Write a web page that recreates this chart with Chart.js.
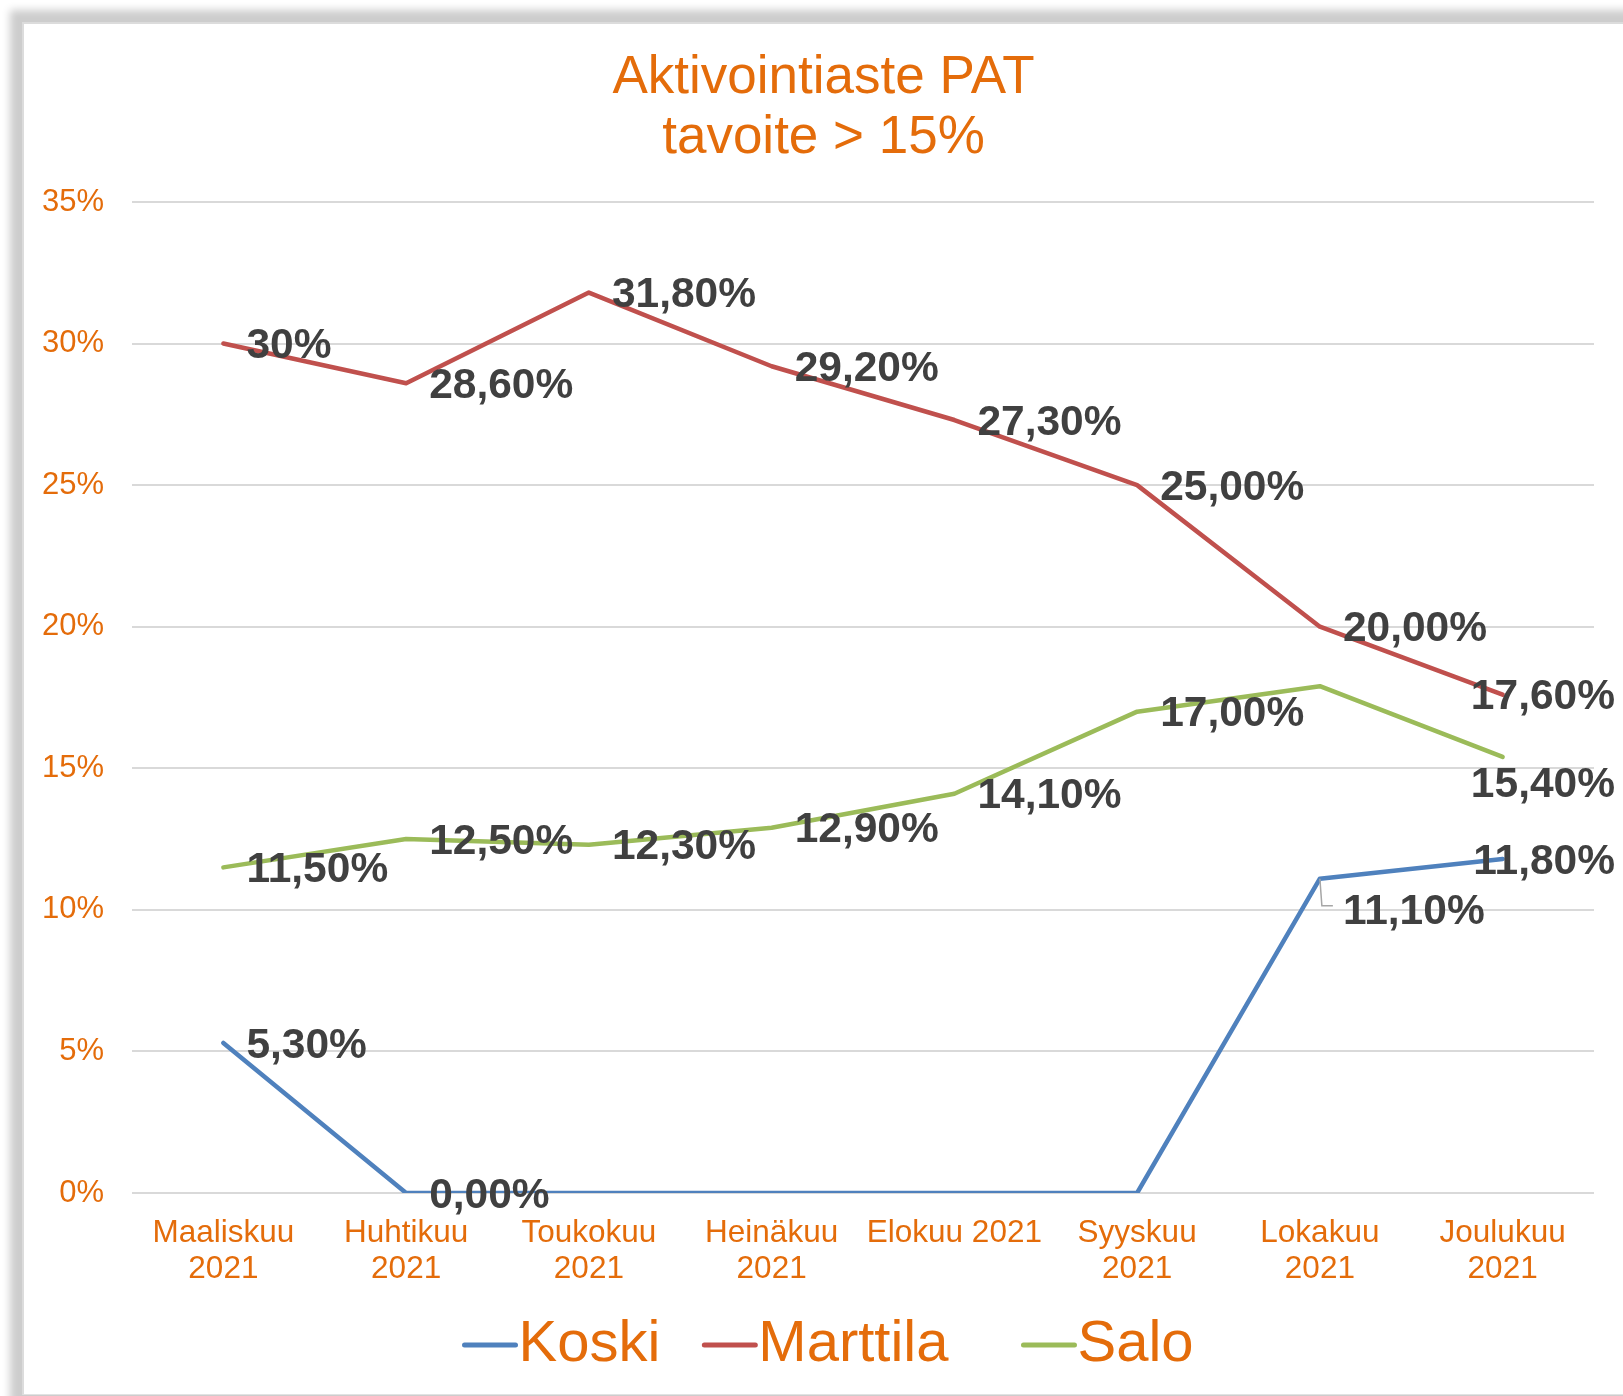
<!DOCTYPE html>
<html>
<head>
<meta charset="utf-8">
<script src="https://cdn.jsdelivr.net/npm/chart.js@4/dist/chart.umd.min.js"></script>
<style>
  html, body { margin: 0; padding: 0; background: #fff; overflow: hidden; }
  #frame {
    position: absolute; left: 22px; top: 22px;
    width: 1640px; height: 1370px;
    background: #fff;
    border-top: 2px solid #dcdcdc; border-left: 2px solid #dcdcdc; border-bottom: 1px solid #e2e2e2;
    box-shadow: 0 0 8px 12px #cdcdcd;
  }
  #chart { position: absolute; left: 0; top: 0; }
</style>
</head>
<body>
<div id="frame"><canvas id="chart" width="1599" height="1370"></canvas></div>
<script>
// Kuukaudet (x-akselin nimikkeet)
const months = [
    ['Maaliskuu', '2021'], ['Huhtikuu', '2021'], ['Toukokuu', '2021'], ['Heinäkuu', '2021'],
    'Elokuu 2021', ['Syyskuu', '2021'], ['Lokakuu', '2021'], ['Joulukuu', '2021']
];
// Aktivointiaste % per kunta
const koski = [5.3, 0, 0, 0, 0, 0, 11.1, 11.8];
const marttila = [30, 28.6, 31.8, 29.2, 27.3, 25.0, 20.0, 17.6];
const salo = [11.5, 12.5, 12.3, 12.9, 14.1, 17.0, 17.9, 15.4];
const seriesNames = ['Koski', 'Marttila', 'Salo'];
const yTicks = [0, 5, 10, 15, 20, 25, 30, 35];
const titleLines = ['Aktivointiaste PAT', 'tavoite > 15%'];

const orange = '#E46C0A';
const fontFamily = '"Liberation Sans", Arial, sans-serif';

// Arvojen tekstit: pilkku desimaalierottimena
const fmt = (v) => v.toFixed(2).replace('.', ',') + '%';
const textOverrides = { '1-0': '30%' };
const hiddenLabels = { 0: [2, 3, 4, 5], 2: [6] };
// Käsin siirretyt nimikkeet (dy px) ja johtoviiva
const labelShift = { '0-6': { dy: 31, leader: true }, '2-7': { dy: 25 } };

const pointLabels = {
    id: 'pointLabels',
    afterDatasetsDraw(chart) {
        const ctx = chart.ctx;
        ctx.save();
        ctx.font = 'bold 42.5px ' + fontFamily;
        ctx.textBaseline = 'middle';
        ctx.textAlign = 'left';
        chart.data.datasets.forEach((ds, di) => {
            const meta = chart.getDatasetMeta(di);
            meta.data.forEach((pt, i) => {
                if ((hiddenLabels[di] || []).includes(i)) return;
                const key = di + '-' + i;
                const text = textOverrides[key] || fmt(ds.data[i]);
                const shift = labelShift[key] || { dy: 0 };
                const w = ctx.measureText(text).width;
                let x = pt.x + 23;
                if (x + w > chart.width - 8) x = chart.width - 8 - w;
                const y = pt.y + shift.dy;
                if (shift.leader) {
                    ctx.strokeStyle = '#a6a6a6';
                    ctx.lineWidth = 1.5;
                    ctx.beginPath();
                    ctx.moveTo(pt.x, pt.y);
                    ctx.lineTo(pt.x + 2, y - 4);
                    ctx.lineTo(x - 10, y - 4);
                    ctx.stroke();
                }
                ctx.fillStyle = '#404040';
                ctx.fillText(text, x, y + 3);
            });
        });
        ctx.restore();
    },
    afterDraw(chart) {
        const ctx = chart.ctx;
        ctx.save();
        ctx.textBaseline = 'middle';
        // Otsikko
        ctx.font = '53px ' + fontFamily;
        ctx.fillStyle = orange;
        ctx.textAlign = 'center';
        titleLines.forEach((t, i) => ctx.fillText(t, chart.width / 2, 54.5 + i * 60));

        // Selite alareunaan
        ctx.textAlign = 'left';
        ctx.font = '58px ' + fontFamily;
        const lineW = 57, gapText = 0, gaps = [41, 72];
        const items = chart.data.datasets.map((ds) => ({
            label: ds.label, color: ds.borderColor, w: ctx.measureText(ds.label).width
        }));
        let x = chart.width / 2 - 362;
        const y = 1321;
        items.forEach((it, i) => {
            ctx.strokeStyle = it.color;
            ctx.lineWidth = 5;
            ctx.lineCap = 'round';
            ctx.beginPath();
            ctx.moveTo(x + 3, y);
            ctx.lineTo(x + lineW - 3, y);
            ctx.stroke();
            ctx.fillStyle = orange;
            ctx.fillText(it.label, x + lineW + gapText, y);
            x += lineW + gapText + it.w + (gaps[i] || 0);
        });
        ctx.restore();
    }
};

const makeSet = (label, data, color) => ({
    label: label,
    data: data,
    borderColor: color,
    backgroundColor: color,
    borderWidth: 4.5,
    borderCapStyle: 'round',
    borderJoinStyle: 'round',
    pointRadius: 0,
    pointHoverRadius: 0,
    tension: 0,
    fill: false
});

new Chart(document.getElementById('chart').getContext('2d'), {
    type: 'line',
    data: {
        labels: months,
        datasets: [
            makeSet(seriesNames[0], koski, '#4F81BD'),
            makeSet(seriesNames[1], marttila, '#C0504D'),
            makeSet(seriesNames[2], salo, '#9BBB59')
        ]
    },
    options: {
        responsive: false,
        animation: false,
        events: [],
        layout: { padding: { left: 0, right: 29, top: 178, bottom: 110 } },
        scales: {
            x: {
                offset: true,
                grid: { display: false, drawTicks: false },
                border: { display: false },
                ticks: {
                    color: orange,
                    font: { family: fontFamily, size: 31.5, lineHeight: 1.13 },
                    padding: 23,
                    maxRotation: 0,
                    autoSkip: false
                },
                afterFit: (scale) => { scale.height = 91; }
            },
            y: {
                min: 0,
                max: 35,
                afterBuildTicks: (scale) => { scale.ticks = yTicks.map((v) => ({ value: v })); },
                grid: { color: '#d9d9d9', lineWidth: 2, drawTicks: false },
                border: { display: false },
                ticks: {
                    color: orange,
                    font: { family: fontFamily, size: 31 },
                    padding: 28,
                    callback: (v) => v + '%'
                },
                afterFit: (scale) => { scale.width = 108; }
            }
        },
        plugins: {
            legend: { display: false },
            tooltip: { enabled: false },
            title: { display: false }
        }
    },
    plugins: [pointLabels]
});
</script>
</body>
</html>
